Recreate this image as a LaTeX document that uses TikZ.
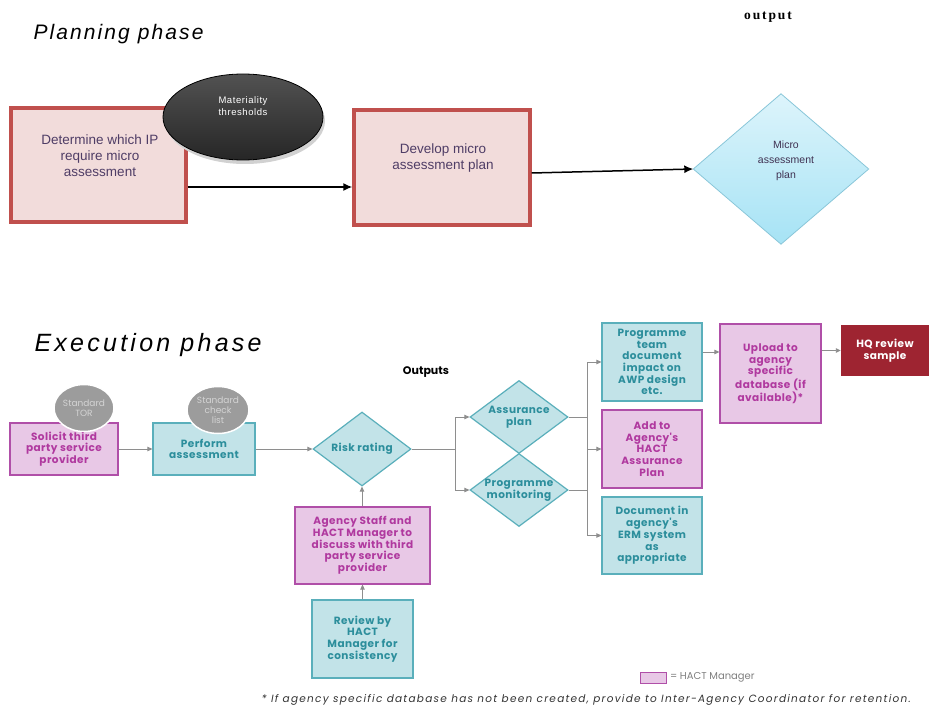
\documentclass[tikz,border=0pt]{standalone}
\usepackage{fontspec}
\setmainfont{Liberation Sans}
\newfontfamily\serifb{Liberation Serif}
\newfontfamily\gfont{Poppins}
\usetikzlibrary{shapes.geometric,arrows.meta,calc}

\definecolor{plred}{HTML}{C0504D}
\definecolor{plfill}{HTML}{F2DCDB}
\definecolor{pltxt}{HTML}{4F3D66}
\definecolor{diab}{HTML}{87C6D9}
\definecolor{diatop}{HTML}{DDF4FB}
\definecolor{diabot}{HTML}{A6E3F5}
\definecolor{tealf}{HTML}{C2E3E8}
\definecolor{tealb}{HTML}{5AAFBB}
\definecolor{tealt}{HTML}{2C8E9C}
\definecolor{pinkf}{HTML}{E8C8E6}
\definecolor{pinkb}{HTML}{B04FA8}
\definecolor{pinkt}{HTML}{B0399F}
\definecolor{hqred}{HTML}{9E2431}
\definecolor{circg}{HTML}{9C9C9C}
\definecolor{circt}{HTML}{D4D4D4}
\definecolor{lineg}{HTML}{8E8E8E}

\begin{document}
\begin{tikzpicture}[x=1pt,y=-1pt,
  plbox/.style={rectangle, draw=plred, line width=3.4pt, fill=plfill, inner sep=0pt},
  pltext/.style={font=\fontsize{13.5}{16}\selectfont, text=pltxt, align=center},
  arrk/.style={-{Latex[length=9pt,width=8pt]}, line width=1.5pt, black},
  exfont/.style={font=\gfont\bfseries\fontsize{10.5}{11.7}\selectfont\addfontfeature{LetterSpace=4}, align=center, inner sep=0pt},
  tbox/.style={rectangle, draw=tealb, line width=1.2pt, fill=tealf, text=tealt, exfont},
  pkbox/.style={rectangle, draw=pinkb, line width=1.2pt, fill=pinkf, text=pinkt, exfont},
  tdia/.style={diamond, draw=tealb, line width=1.2pt, fill=tealf, inner sep=0pt},
  tdiatext/.style={text=tealt, exfont},
  gcirc/.style={ellipse, fill=circg, draw=white, line width=1.5pt, text=circt,
    font=\gfont\fontsize{9}{10}\selectfont, align=center, inner sep=0pt},
  garr/.style={draw=lineg, line width=0.9pt, -{Triangle[length=5pt,width=4.5pt]}},
  gline/.style={draw=lineg, line width=0.9pt}
]
\useasboundingbox (0,0) rectangle (930,706);
\fill[white] (0,0) rectangle (930,706);

% ---------------- Planning phase ----------------
\node[anchor=west, font=\itshape\fontsize{21}{24}\selectfont\addfontfeature{LetterSpace=10}] (ttl1) at (30,34) {Planning phase};
\node[font=\serifb\bfseries\fontsize{13.5}{15}\selectfont\addfontfeature{LetterSpace=14}] (outl) at (768,17) {output};

\node[plbox, minimum width=175pt, minimum height=114pt] (b1) at (98.5,165) {};
\node[pltext] (b1t) at (100,156) {Determine which IP\\require micro\\assessment};

% soft shadow under the grey ellipse
\fill[black!18] (245,121) ellipse [x radius=80pt, y radius=43pt];
\node[ellipse, minimum width=160pt, minimum height=86pt, inner sep=0pt, draw=black, line width=0.8pt,
  top color=black!68, middle color=black!36, bottom color=black!85] (th) at (243,117) {};
\node[text=white, font=\fontsize{9.5}{12}\selectfont\addfontfeature{LetterSpace=6}, align=center] (tht) at (243,106) {Materiality\\thresholds};

\node[plbox, minimum width=176pt, minimum height=115pt] (b2) at (442,167.5) {};
\node[pltext] (b2t) at (443,158) {Develop micro\\assessment plan};

\node[diamond, minimum width=175pt, minimum height=150pt, inner sep=0pt,
  top color=diatop, bottom color=diabot] (d1) at (781,169) {};
\draw[draw=diab, line width=0.8pt] (d1.north) -- (d1.east) -- (d1.south) -- (d1.west) -- cycle;
\node[font=\fontsize{10.5}{15}\selectfont, text=pltxt!80!black, align=center] (d1t) at (786,161) {Micro\\assessment\\plan};

\draw[arrk] (b1.east |- 0,187) -- (b2.west |- 0,187);
\draw[arrk] (b2.east |- 0,173) -- (d1.west);

% ---------------- Execution phase ----------------
\node[anchor=west, font=\itshape\fontsize{25}{30}\selectfont\addfontfeature{LetterSpace=13}] (ttl2) at (31,345) {Execution phase};
\node[font=\gfont\bfseries\fontsize{11}{12}\selectfont] (outs) at (426,372) {Outputs};

\node[pkbox, minimum width=108pt, minimum height=52pt] (sol) at (64,449) {Solicit third\\party service\\provider};
\node[tbox, minimum width=102pt, minimum height=52pt] (per) at (204,449) {Perform\\assessment};
\node[gcirc, minimum width=60pt, minimum height=47pt] (tor) at (84,408) {Standard\\TOR};
\node[gcirc, minimum width=62pt, minimum height=47pt] (chk) at (218,410) {Standard\\check\\list};

\node[tdia, minimum width=98pt, minimum height=74pt] (risk) at (362,449) {};
\node[tdiatext] (riskt) at (risk) {Risk rating};
\node[tdia, minimum width=98pt, minimum height=73pt] (ap) at (519,417) {};
\node[tdiatext] (apt) at (ap) {Assurance\\plan};
\node[tdia, minimum width=98pt, minimum height=73pt] (pm) at (519,490) {};
\node[tdiatext] (pmt) at (pm) {Programme\\monitoring};

\node[tbox, minimum width=100pt, minimum height=78pt] (pt) at (652,362) {Programme\\team\\document\\impact on\\AWP design\\etc.};
\node[pkbox, minimum width=100pt, minimum height=78pt] (add) at (652,449) {Add to\\Agency's\\HACT\\Assurance\\Plan};
\node[tbox, minimum width=100pt, minimum height=77pt] (doc) at (652,535.5) {Document in\\agency's\\ERM system\\as\\appropriate};
\node[pkbox, minimum width=101pt, minimum height=99pt] (up) at (770.5,373.5) {Upload to\\agency\\specific\\database (if\\available)*};
\node[rectangle, fill=hqred, text=white, exfont, minimum width=88pt, minimum height=51pt] (hq) at (885,350.5) {HQ review\\sample};

\node[pkbox, minimum width=135pt, minimum height=77pt] (ag) at (362.5,545.5) {Agency Staff and\\HACT Manager to\\discuss with third\\party service\\provider};
\node[tbox, minimum width=101pt, minimum height=78pt] (rev) at (362.5,639) {Review by\\HACT\\Manager for\\consistency};

% connectors
\draw[garr] (sol.east) -- (per.west);
\draw[garr] (per.east) -- (risk.west);
\coordinate (j1) at (455,449);
\draw[gline] (risk.east) -- (j1);
\draw[garr] (j1) |- (ap.west);
\draw[garr] (j1) |- (pm.west);
\coordinate (j2) at (587,449);
\draw[garr] (ap.east) -- (ap.east -| j2) |- (pt.west);
\draw[garr] (pm.east) -- (pm.east -| j2) |- (doc.west);
\draw[gline] (ap.east -| j2) -- (pm.east -| j2);
\draw[garr] (j2) -- (add.west);
\draw[garr] ([yshift=10pt]pt.east) -- ([yshift=10pt]pt.east -| up.west);
\draw[garr] (up.east |- hq.west) -- (hq.west);
\draw[garr] (ag.north -| risk.south) -- (risk.south);
\draw[garr] (rev.north) -- (ag.south);

% legend and footnote
\node[rectangle, draw=pinkb, line width=1pt, fill=pinkf, minimum width=26pt, minimum height=11pt, inner sep=0pt] (lg) at (653,677.5) {};
\node[anchor=west, text=black!50, font=\gfont\fontsize{10}{11}\selectfont] (lgt) at (lg.east) {= HACT Manager};
\node[anchor=west, text=black!80, font=\gfont\itshape\fontsize{10.5}{12}\selectfont\addfontfeature{LetterSpace=12}] (fn) at (258,700) {* If agency specific database has not been created, provide to Inter-Agency Coordinator for retention.};
\end{tikzpicture}
\end{document}
